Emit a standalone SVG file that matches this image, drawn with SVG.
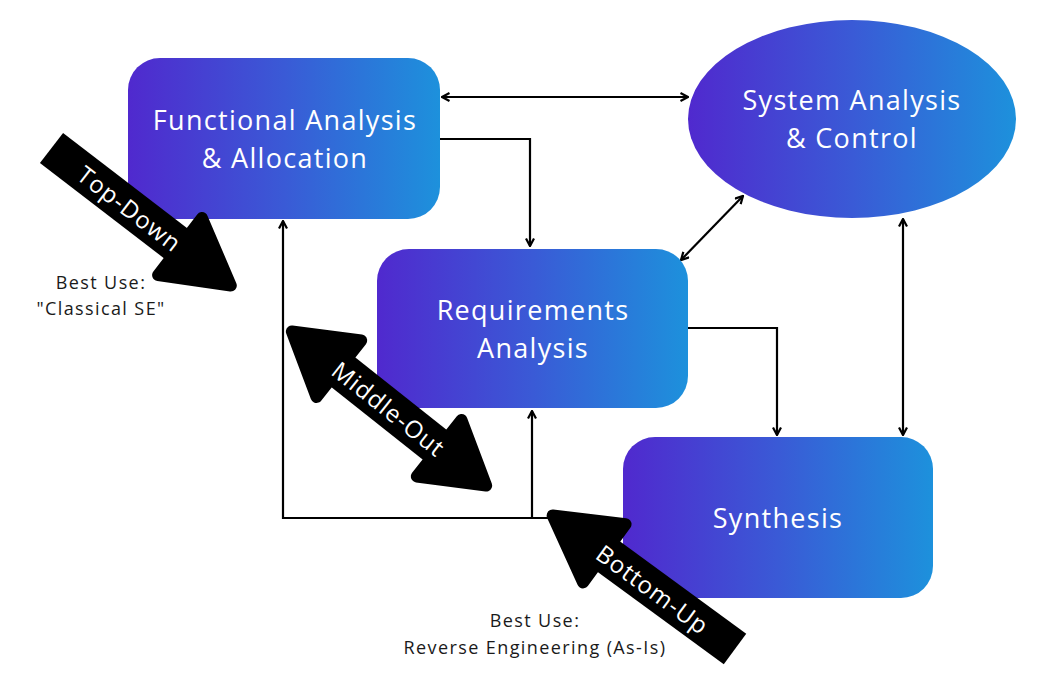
<svg xmlns="http://www.w3.org/2000/svg" width="1046" height="691" viewBox="0 0 1046 691">
  <defs>
    <linearGradient id="grad" x1="0" y1="0" x2="1" y2="0">
      <stop offset="0" stop-color="#5029CE"/>
      <stop offset="0.5" stop-color="#3A5AD6"/>
      <stop offset="1" stop-color="#1D91DC"/>
    </linearGradient>
    <marker id="ah" viewBox="0 0 10 10" refX="9" refY="5" markerWidth="10" markerHeight="10" markerUnits="userSpaceOnUse" orient="auto-start-reverse">
      <path d="M1.5,1 L9,5 L1.5,9" fill="none" stroke="#000" stroke-width="2.2" stroke-linejoin="miter"/>
    </marker>
    <style>
      .node { fill: url(#grad); }
      .label { font-family: "Open Sans", "Noto Sans", sans-serif; font-size: 27px; letter-spacing: 1.3px; fill: #ffffff; text-anchor: middle; }
      .conn { fill: none; stroke: #000; stroke-width: 2.2; }
      .big { fill: #000; }
      .head { fill: #000; stroke: #000; stroke-width: 12; stroke-linejoin: round; }
      .atext { font-family: "Open Sans", "Noto Sans", sans-serif; font-size: 24px; letter-spacing: 1px; fill: #ffffff; text-anchor: middle; dominant-baseline: central; }
      .note { font-family: "Open Sans", "Noto Sans", sans-serif; font-size: 18px; letter-spacing: 1.4px; fill: #1a1a1a; text-anchor: middle; }
    </style>
  </defs>
  <rect width="1046" height="691" fill="#ffffff"/>

  <g id="connectors">
    <path class="conn" d="M442,97 L688,97" marker-start="url(#ah)" marker-end="url(#ah)"/>
    <path class="conn" d="M440,139 L530,139 L530,246" marker-end="url(#ah)"/>
    <path class="conn" d="M743,196 L681,260" marker-start="url(#ah)" marker-end="url(#ah)"/>
    <path class="conn" d="M688,328 L777,328 L777,435" marker-end="url(#ah)"/>
    <path class="conn" d="M903,219 L903,435" marker-start="url(#ah)" marker-end="url(#ah)"/>
    <path class="conn" d="M548,518 L283,518 L283,221" marker-end="url(#ah)"/>
    <path class="conn" d="M532,518 L532,411" marker-end="url(#ah)"/>
  </g>

  <g id="functional">
    <rect class="node" x="128" y="58" width="312" height="161" rx="32"/>
    <text class="label" x="285" y="130">Functional Analysis</text>
    <text class="label" x="285" y="168">&amp; Allocation</text>
  </g>

  <g id="system">
    <ellipse class="node" cx="852" cy="119" rx="164" ry="99"/>
    <text class="label" x="852" y="110">System Analysis</text>
    <text class="label" x="852" y="148">&amp; Control</text>
  </g>

  <g id="requirements">
    <rect class="node" x="377" y="249" width="311" height="159" rx="32"/>
    <text class="label" x="533" y="320">Requirements</text>
    <text class="label" x="533" y="358">Analysis</text>
  </g>

  <g id="synthesis">
    <rect class="node" x="623" y="437" width="310" height="161" rx="32"/>
    <text class="label" x="778" y="528">Synthesis</text>
  </g>

  <g id="top-down">
    <g transform="translate(51.5,148) rotate(37.5)">
      <rect class="big" x="0" y="-19" width="166" height="38"/>
      <polygon class="head" points="162,-36 226,0 162,36"/>
      <text class="atext" x="99" y="0">Top-Down</text>
    </g>
  </g>

  <g id="middle-out">
    <g transform="translate(389,408.5) rotate(38.4)">
      <rect class="big" x="-68" y="-19" width="136" height="38"/>
      <polygon class="head" points="-64,-36 -124,0 -64,36"/>
      <polygon class="head" points="64,-36 124,0 64,36"/>
      <text class="atext" x="0" y="0">Middle-Out</text>
    </g>
  </g>

  <g id="bottom-up">
    <g transform="translate(735,649) rotate(216.2)">
      <rect class="big" x="0" y="-19" width="166" height="38"/>
      <polygon class="head" points="162,-36 226,0 162,36"/>
    </g>
    <text class="atext" transform="translate(653,589) rotate(36.2)" x="0" y="0">Bottom-Up</text>
  </g>

  <g id="note-top">
    <text class="note" x="101" y="288.5">Best Use:</text>
    <text class="note" x="101" y="314.5">"Classical SE"</text>
  </g>

  <g id="note-bottom">
    <text class="note" x="535" y="626.5">Best Use:</text>
    <text class="note" x="535" y="653.5">Reverse Engineering (As-Is)</text>
  </g>
</svg>
